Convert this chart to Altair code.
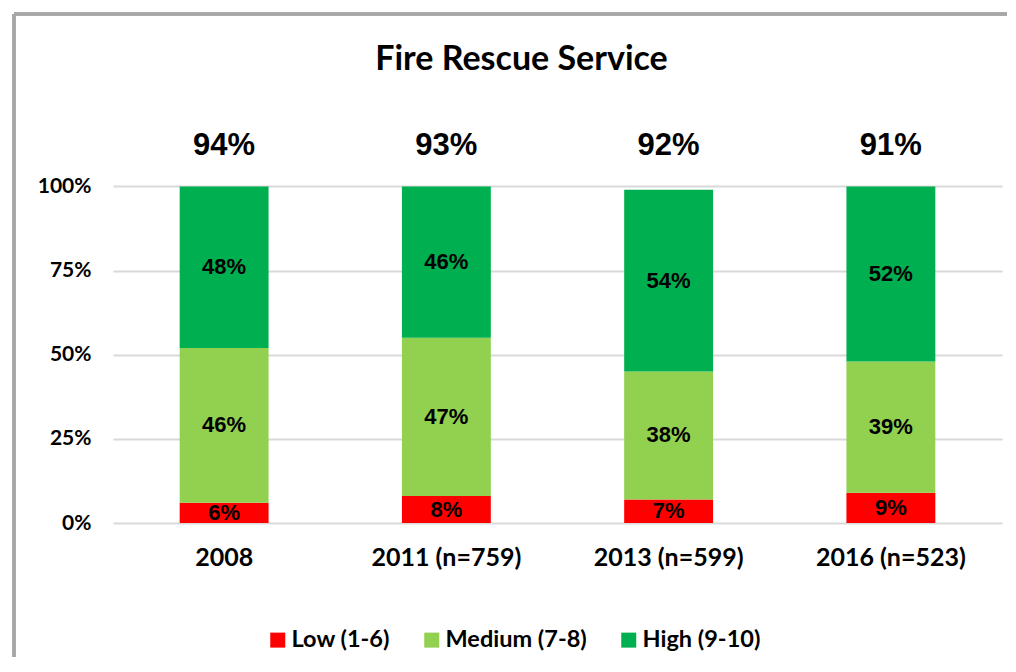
import altair as alt
import pandas as pd

years = ["2008", "2011 (n=759)", "2013 (n=599)", "2016 (n=523)"]
levels = ["Low (1-6)", "Medium (7-8)", "High (9-10)"]
colors = ["#FF0000", "#92D050", "#00B050"]

# segment heights
low_h = [6, 8, 7, 9]
medium_h = [46, 47, 38, 39]
high_h = [48, 45, 54, 52]
# printed labels
low_lbl = [6, 8, 7, 9]
medium_lbl = [46, 47, 38, 39]
high_lbl = [48, 46, 54, 52]
totals = [94, 93, 92, 91]

rows = []
for i, yr in enumerate(years):
    base = 0
    for j, (h, lb) in enumerate(zip([low_h[i], medium_h[i], high_h[i]],
                                     [low_lbl[i], medium_lbl[i], high_lbl[i]])):
        rows.append({"year": yr, "level": levels[j], "order": j,
                     "y0": base, "y1": base + h, "mid": base + h / 2,
                     "label": f"{lb}%"})
        base += h
df = pd.DataFrame(rows)
tot = pd.DataFrame({"year": years, "label": [f"{t}%" for t in totals]})

W, H = 889, 377
DOM = [0, 112]

x = alt.X("year:N", sort=years, title=None,
          scale=alt.Scale(paddingInner=0.6, paddingOuter=0.3),
          axis=alt.Axis(labelAngle=0, labelFont="Lato", labelFontWeight="bold",
                        labelFontSize=25, labelColor="#000000", labelPadding=22,
                        domain=False, ticks=False))

bars = alt.Chart(df).mark_bar().encode(
    x=x,
    y=alt.Y("y0:Q", title=None, scale=alt.Scale(domain=DOM, nice=False),
            axis=alt.Axis(values=[0, 25, 50, 75, 100],
                          labelExpr="datum.value + '%'",
                          labelFont="Lato", labelFontWeight="bold", labelFontSize=21,
                          labelColor="#000000", labelPadding=22,
                          domain=False, ticks=False,
                          grid=True, gridColor="#D9D9D9", gridWidth=2)),
    y2="y1:Q",
    color=alt.Color("level:N", sort=levels,
                    scale=alt.Scale(domain=levels, range=colors),
                    legend=alt.Legend(title=None, orient="none", direction="horizontal",
                                      legendX=153, legendY=482,
                                      symbolType="square", symbolSize=225,
                                      symbolStrokeWidth=0, symbolOpacity=1,
                                      labelFont="Lato", labelFontWeight="bold",
                                      labelFontSize=23.5, labelColor="#000000",
                                      columnPadding=30, labelOffset=2, padding=0)),
    order="order:Q",
)

seg_text = alt.Chart(df).mark_text(font="Liberation Sans", fontWeight="bold",
                                   fontSize=22, color="#000000", baseline="middle").encode(
    x=alt.X("year:N", sort=years),
    y=alt.Y("mid:Q"),
    text="label:N",
)

tot_text = alt.Chart(tot).mark_text(font="Liberation Sans", fontWeight="bold",
                                    fontSize=31, color="#000000", baseline="middle").encode(
    x=alt.X("year:N", sort=years),
    y=alt.datum(112),
    text="label:N",
)

frame_left = alt.Chart(tot).mark_rule(color="#A6A6A6", strokeWidth=3).encode(
    x=alt.value(-99), y=alt.value(-132), y2=alt.value(H + 160))
frame_top = alt.Chart(tot).mark_rule(color="#A6A6A6", strokeWidth=3).encode(
    x=alt.value(-99), x2=alt.value(W + 10), y=alt.value(-132))

chart = alt.layer(frame_left, frame_top, bars, seg_text, tot_text).properties(
    width=W, height=H,
    autosize=alt.AutoSizeParams(type="none"),
    padding={"left": 105, "top": 138, "right": 5, "bottom": 134},
    background="white",
    title=alt.Title("Fire Rescue Service", font="Lato", fontWeight="bold",
                    fontSize=34, color="#000000", anchor="middle", offset=-64, dx=-36),
).configure_view(stroke=None)

chart.save("out.html", embed_options={"renderer": "svg", "actions": False})
